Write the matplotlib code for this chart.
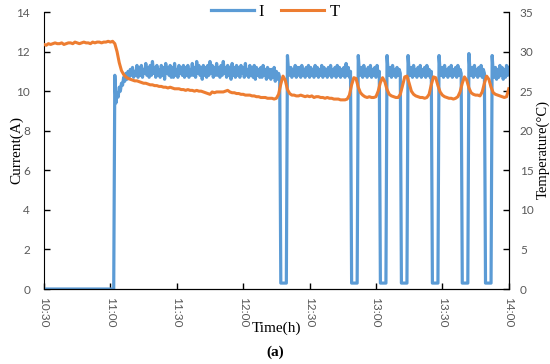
import matplotlib
matplotlib.use("Agg")
import matplotlib.pyplot as plt
import numpy as np

# minutes after 10:30, current sampled every 0.5 min, temperature every 1 min
tick_minutes = [0, 30, 60, 90, 120, 150, 180, 210]
tick_labels = ["10:30", "11:00", "11:30", "12:00", "12:30", "13:00", "13:30", "14:00"]

current_idle = [0.0] * 64  # 0 .. 31.5
current_startup = [10.8, 9.4, 9.9, 9.7, 10.2, 10.0, 10.4, 10.3, 10.7, 10.5, 10.9, 10.6]
current_run1 = [
    11.0, 10.7, 11.1, 10.8, 11.2, 10.7, 11.0, 10.8, 11.3, 10.7,
    11.2, 10.8, 11.3, 10.7, 11.1, 10.9, 11.4, 10.8, 11.2, 10.7,
    11.3, 10.8, 11.5, 10.9, 11.2, 10.7, 11.3, 10.8, 11.1, 10.7,
    11.3, 10.8, 11.2, 10.6, 11.4, 10.9, 11.2, 10.8, 11.3, 10.7,
    11.2, 10.7, 11.4, 10.8, 11.1, 10.7, 11.3, 10.9, 11.2, 10.8,
    11.3, 10.7, 11.2, 10.8, 11.3, 10.7, 11.1, 10.8, 11.4, 10.8,
    11.2, 10.7, 11.5, 10.9, 11.3, 10.8, 11.2, 10.6, 11.3, 10.8,
    11.2, 10.7, 11.3, 10.8, 11.5, 10.9, 11.3, 10.7, 11.2, 10.8,
    11.4, 10.8, 11.2, 10.7, 11.3, 10.8, 11.5, 10.9, 11.2, 10.7,
    11.3, 10.8, 11.2, 10.6, 11.4, 10.8, 11.2, 10.7, 11.3, 10.8,
    11.2, 10.7, 11.3, 10.9, 11.2, 10.7, 11.4, 10.8, 11.1, 10.7,
    11.3, 10.8, 11.2, 10.7, 11.3, 10.6, 11.2, 10.8, 11.1, 10.7,
    11.2, 10.7, 11.3, 10.8, 11.1, 10.6, 11.2, 10.7, 11.1, 10.6,
    11.1, 10.7, 11.2, 10.5, 11.0, 10.6, 10.9, 10.7,
]
pulse_off = [0.3] * 6
current_run2 = [
    11.8, 11.0, 10.8, 11.2, 10.7, 11.1, 10.8, 11.3, 10.7, 11.2,
    10.8, 11.2, 10.7, 11.3, 10.8, 11.1, 10.7, 11.2, 10.8, 11.3,
    10.7, 11.2, 10.8, 11.1, 10.7, 11.3, 10.8, 11.2, 10.7, 11.1,
    10.8, 11.3, 10.7, 11.2, 10.8, 11.1, 10.7, 11.2, 10.8, 11.3,
    10.7, 11.1, 10.8, 11.2, 10.7, 11.3, 10.8, 11.2, 10.7, 11.1,
    10.8, 11.2, 10.7, 11.4, 10.8, 11.2, 10.7, 11.0,
]
current_run3 = [
    11.8, 11.0, 10.8, 11.2, 10.7, 11.3, 10.8, 11.1, 10.7, 11.2,
    10.8, 11.3, 10.7, 11.1, 10.8, 11.2, 10.7, 11.3, 10.8, 11.0,
]
current_run4 = [
    11.8, 11.0, 10.8, 11.2, 10.7, 11.3, 10.8, 11.1, 10.7, 11.2,
    10.8, 11.1, 10.9,
]
current_run5 = [
    11.8, 11.0, 10.8, 11.2, 10.7, 11.3, 10.8, 11.1, 10.7, 11.2,
    10.8, 11.3, 10.7, 11.1, 10.8, 11.2, 10.7, 11.3, 10.8, 11.1,
    10.7, 11.0,
]
current_run6 = [
    11.8, 11.0, 10.8, 11.2, 10.7, 11.3, 10.8, 11.1, 10.7, 11.2,
    10.8, 11.3, 10.7, 11.1, 10.8, 11.2, 10.7, 11.3, 10.8, 11.1,
    10.9,
]
current_run7 = [
    11.9, 11.0, 10.8, 11.2, 10.7, 11.3, 10.8, 11.1, 10.7, 11.2,
    10.8, 11.3, 10.7, 11.1, 10.9,
]
current_run8 = [
    11.8, 10.9, 10.7, 11.2, 10.6, 11.1, 10.7, 11.3, 10.8, 11.2,
    10.6, 11.1, 10.7, 11.3, 10.8, 11.2,
]

temperature = [
    30.9, 30.8, 31.0, 30.9, 31.0, 31.1, 31.0, 31.0, 31.1, 30.9,
    31.0, 31.1, 31.1, 31.0, 31.2, 31.1, 31.0, 31.1, 31.2, 31.1,
    31.1, 31.0, 31.2, 31.1, 31.2, 31.2, 31.1, 31.2, 31.2, 31.3,
    31.2, 31.3, 31.0, 30.0, 28.6, 27.6, 27.1, 26.8, 26.6, 26.5,
    26.4, 26.3, 26.3, 26.2, 26.1, 26.0, 26.0, 25.9, 25.8, 25.8,
    25.7, 25.7, 25.6, 25.6, 25.5, 25.5, 25.4, 25.5, 25.4, 25.3,
    25.3, 25.3, 25.2, 25.2, 25.1, 25.2, 25.1, 25.1, 25.0, 25.1,
    25.0, 25.0, 24.9, 24.8, 24.7, 24.6, 24.9, 24.8, 24.9, 24.9,
    24.9, 24.9, 25.0, 25.1, 24.9, 24.8, 24.8, 24.7, 24.7, 24.6,
    24.6, 24.5, 24.5, 24.5, 24.4, 24.4, 24.3, 24.3, 24.2, 24.2,
    24.2, 24.1, 24.1, 24.1, 24.0, 24.1, 24.6, 25.9, 26.9, 26.4,
    25.2, 24.7, 24.5, 24.5, 24.4, 24.4, 24.5, 24.4, 24.3, 24.4,
    24.3, 24.4, 24.2, 24.3, 24.3, 24.2, 24.2, 24.1, 24.2, 24.1,
    24.1, 24.0, 24.0, 24.0, 23.9, 23.9, 23.9, 24.0, 24.5, 25.8,
    26.7, 26.6, 25.5, 24.8, 24.5, 24.3, 24.2, 24.3, 24.2, 24.2,
    24.3, 25.0, 26.1, 26.7, 26.2, 25.2, 24.6, 24.4, 24.3, 24.2,
    24.2, 24.6, 25.7, 26.8, 26.9, 26.0, 25.0, 24.6, 24.4, 24.3,
    24.2, 24.2, 24.1, 24.2, 24.6, 25.8, 26.8, 26.7, 25.7, 24.9,
    24.5, 24.3, 24.2, 24.1, 24.1, 24.0, 24.1, 24.3, 24.9, 26.0,
    26.8, 26.4, 25.4, 24.8, 24.6, 24.5, 24.5, 24.4, 24.9, 26.0,
    26.9, 26.5, 25.5, 24.8, 24.6, 24.5, 24.4, 24.3, 24.2, 24.3,
    25.3,
]

current = np.array(
    current_idle + current_startup + current_run1 + pulse_off
    + current_run2 + pulse_off + current_run3 + pulse_off
    + current_run4 + pulse_off + current_run5 + pulse_off
    + current_run6 + pulse_off + current_run7 + pulse_off + current_run8
)
t_current = np.arange(len(current)) * 0.5
t_temp = np.arange(len(temperature))

fig = plt.figure(figsize=(5.5, 3.64), dpi=100)
ax1 = fig.add_axes([0.08, 0.206, 0.845, 0.761])
ax2 = ax1.twinx()

blue = "#5B9BD5"
orange = "#ED7D31"
tick_color = "#595959"
serif = "Liberation Serif"
tick_font = "Lato"

l1, = ax1.plot(t_current, current, color=blue, lw=2.3, label="I")
l2, = ax2.plot(t_temp, temperature, color=orange, lw=2.2, label="T")

ax1.set_xlim(0, 210)
ax1.set_ylim(0, 14)
ax2.set_ylim(0, 35)
ax1.set_yticks(range(0, 15, 2))
ax2.set_yticks(range(0, 36, 5))
ax1.set_xticks(tick_minutes)
ax1.set_xticklabels(tick_labels, rotation=-90)

for ax in (ax1, ax2):
    ax.spines["top"].set_visible(False)
    ax.tick_params(direction="in", length=4, width=1, colors="black",
                   labelcolor=tick_color, labelsize=8.5)
    for lab in ax.get_xticklabels() + ax.get_yticklabels():
        lab.set_family(tick_font)
ax2.spines["left"].set_visible(False)
ax1.tick_params(axis="y", pad=10)
ax2.tick_params(axis="y", pad=8)
ax1.tick_params(axis="x", pad=6)

fig.text(0.03, 0.588, "Current(A)", rotation=90, ha="center", va="center",
         family=serif, fontsize=11)
fig.text(0.988, 0.588, "Temperature(\u00b0C)", rotation=90, ha="center", va="center",
         family=serif, fontsize=10.5)
fig.text(0.503, 0.099, "Time(h)", ha="center", va="center", family=serif, fontsize=11)
fig.text(0.5, 0.033, "(a)", ha="center", va="center", family=serif,
         fontsize=11, fontweight="bold")

fig.legend([l1, l2], ["I", "T"], loc="center", bbox_to_anchor=(0.5, 0.967),
           ncol=2, frameon=False, handlelength=2.6, columnspacing=1.0,
           handletextpad=0.3, prop={"family": serif, "size": 12})

fig.savefig("out.png", dpi=100)
